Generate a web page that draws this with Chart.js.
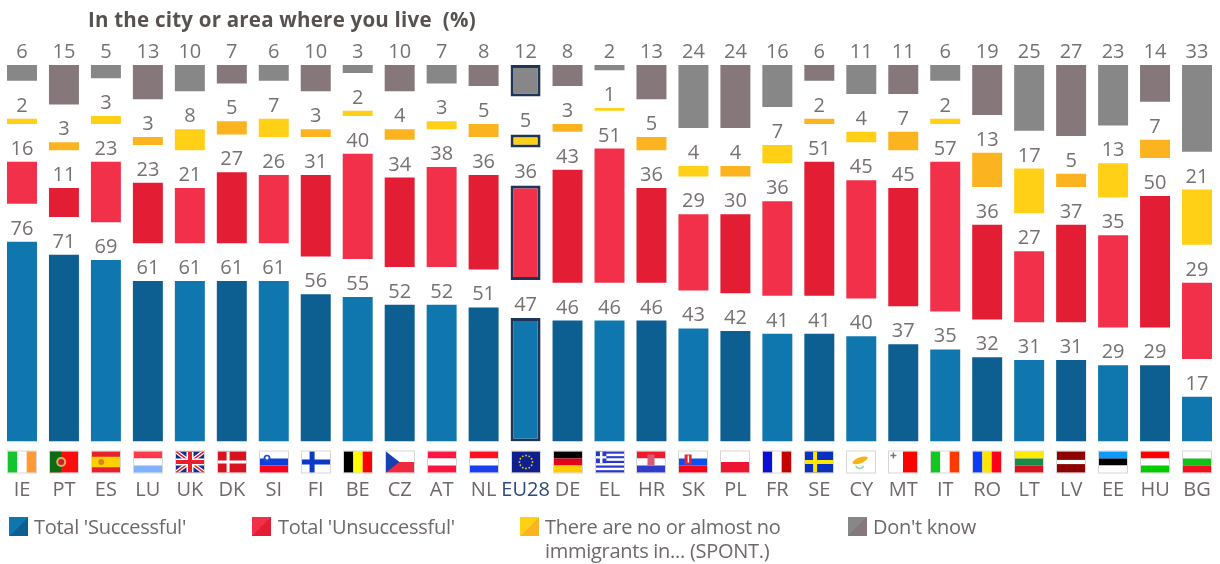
<!DOCTYPE html>
<html>
<head>
<meta charset="utf-8">
<script src="https://cdn.jsdelivr.net/npm/chart.js@4"></script>
<style>
html,body{margin:0;padding:0;background:#fff;}
#wrap{position:relative;width:1220px;height:564px;overflow:hidden;font-family:"Open Sans",sans-serif;color:#6f686a;}
canvas{position:absolute;left:0;top:0;}
.t{position:absolute;white-space:nowrap;font-size:20px;line-height:24px;letter-spacing:-0.28px;}
.s{position:absolute;width:19px;height:19px;}
#title{position:absolute;left:88px;top:6px;font-size:20.5px;line-height:26px;font-weight:700;color:#57524f;white-space:nowrap;letter-spacing:.22px;}
</style>
</head>
<body>
<div id="wrap">
<canvas id="c" width="1220" height="564"></canvas>
<div id="title">In the city or area where you live&nbsp; (%)</div>
<div class="s" style="left:9px;top:517px;background:linear-gradient(135deg,#0f76ae 50%,#0d5f91 50%)"></div>
<div class="t" style="left:34px;top:515px">Total 'Successful'</div>
<div class="s" style="left:252px;top:517px;background:linear-gradient(135deg,#f3304a 50%,#e31d33 50%)"></div>
<div class="t" style="left:278px;top:515px">Total 'Unsuccessful'</div>
<div class="s" style="left:520px;top:517px;background:linear-gradient(135deg,#ffd016 50%,#fbb41f 50%)"></div>
<div class="t" style="left:545px;top:515px">There are no or almost no</div>
<div class="t" style="left:545px;top:539px">immigrants in... (SPONT.)</div>
<div class="s" style="left:848px;top:517px;background:linear-gradient(135deg,#878787 50%,#85777a 50%)"></div>
<div class="t" style="left:873px;top:515px">Don't know</div>
</div>
<script>
const categories = ["IE","PT","ES","LU","UK","DK","SI","FI","BE","CZ","AT","NL","EU28","DE","EL","HR","SK","PL","FR","SE","CY","MT","IT","RO","LT","LV","EE","HU","BG"];
const successful = [76,71,69,61,61,61,61,56,55,52,52,51,47,46,46,46,43,42,41,41,40,37,35,32,31,31,29,29,17];
const unsuccessful = [16,11,23,23,21,27,26,31,40,34,38,36,36,43,51,36,29,30,36,51,45,45,57,36,27,37,35,50,29];
const noImmigrants = [2,3,3,3,8,5,7,3,2,4,3,5,5,3,1,5,4,4,7,2,4,7,2,13,17,5,13,7,21];
const dontKnow = [6,15,5,13,10,7,6,10,3,10,7,8,12,8,2,13,24,24,16,6,11,11,6,19,25,27,23,14,33];
const seriesGap = 14.4;
const highlight = "EU28";

const shades = {
  blue:["#0f76ae","#0d5f91"], red:["#f3304a","#e31d33"],
  yellow:["#ffd016","#fbb41f"], gray:["#878787","#85777a"]
};
const isEU = i => categories[i] === highlight;
function series(label, data, pair){
  return {label, data, stack:"s", isValue:true,
    backgroundColor: ctx => pair[ctx.dataIndex % 2],
    borderColor: ctx => isEU(ctx.dataIndex) ? "#1f3557" : "rgba(0,0,0,0)",
    borderWidth: ctx => isEU(ctx.dataIndex) ? 3 : 0,
    borderSkipped:false};
}
function spacer(){
  return {label:"", data:categories.map(()=>seriesGap), stack:"s", backgroundColor:"rgba(0,0,0,0)", borderWidth:0};
}

/* flag helpers */
function stripesH(g,x,y,w,h,cols){cols.forEach((c,i)=>{g.fillStyle=c;g.fillRect(x,y+h*i/cols.length,w,h/cols.length);});}
function stripesV(g,x,y,w,h,cols){cols.forEach((c,i)=>{g.fillStyle=c;g.fillRect(x+w*i/cols.length,y,w/cols.length,h);});}
function cross(g,x,y,w,h,cx,t,col){g.fillStyle=col;g.fillRect(x,y+h/2-t/2,w,t);g.fillRect(x+cx-t/2,y,t,h);}
function dot(g,x,y,r,c){g.fillStyle=c;g.beginPath();g.arc(x,y,r,0,Math.PI*2);g.fill();}
const flags = {
  IE:(g,x,y,w,h)=>stripesV(g,x,y,w,h,["#14c42c","#ffffff","#ff9a35"]),
  PT:(g,x,y,w,h)=>{g.fillStyle="#fb0d0d";g.fillRect(x,y,w,h);g.fillStyle="#0a6b14";g.fillRect(x,y,w*.4,h);dot(g,x+w*.4,y+h/2,5,"#d8b060");dot(g,x+w*.4,y+h/2,3,"#c8242c");},
  ES:(g,x,y,w,h)=>{g.fillStyle="#e8202d";g.fillRect(x,y,w,h);g.fillStyle="#ffd000";g.fillRect(x,y+h/4,w,h/2);dot(g,x+w*.33,y+h/2,3,"#d9822b");},
  LU:(g,x,y,w,h)=>stripesH(g,x,y,w,h,["#ff3b4b","#ffffff","#7fb2ff"]),
  UK:(g,x,y,w,h)=>{g.fillStyle="#1b2a8a";g.fillRect(x,y,w,h);g.save();g.beginPath();g.rect(x,y,w,h);g.clip();
    g.strokeStyle="#fff";g.lineWidth=4;g.beginPath();g.moveTo(x,y);g.lineTo(x+w,y+h);g.moveTo(x+w,y);g.lineTo(x,y+h);g.stroke();
    g.strokeStyle="#e8202d";g.lineWidth=1.5;g.beginPath();g.moveTo(x,y);g.lineTo(x+w,y+h);g.moveTo(x+w,y);g.lineTo(x,y+h);g.stroke();
    cross(g,x,y,w,h,w/2,7,"#fff");cross(g,x,y,w,h,w/2,4,"#e8202d");g.restore();},
  DK:(g,x,y,w,h)=>{g.fillStyle="#d9121f";g.fillRect(x,y,w,h);cross(g,x,y,w,h,w*.36,3,"#fff");},
  SI:(g,x,y,w,h)=>{stripesH(g,x,y,w,h,["#ffffff","#0a40d8","#f5041f"]);dot(g,x+w*.25,y+h*.32,3.5,"#1f4fd0");dot(g,x+w*.25,y+h*.3,1.6,"#fff");},
  FI:(g,x,y,w,h)=>{g.fillStyle="#fff";g.fillRect(x,y,w,h);cross(g,x,y,w,h,w*.36,5,"#0b3bc4");},
  BE:(g,x,y,w,h)=>stripesV(g,x,y,w,h,["#000000","#ffff00","#ff0000"]),
  CZ:(g,x,y,w,h)=>{stripesH(g,x,y,w,h,["#ffffff","#ee2a3c"]);g.fillStyle="#1540b0";g.beginPath();g.moveTo(x,y);g.lineTo(x+w*.48,y+h/2);g.lineTo(x,y+h);g.fill();},
  AT:(g,x,y,w,h)=>stripesH(g,x,y,w,h,["#ff1744","#ffffff","#ff1744"]),
  NL:(g,x,y,w,h)=>stripesH(g,x,y,w,h,["#ff1020","#ffffff","#1a3ff0"]),
  EU28:(g,x,y,w,h)=>{g.fillStyle="#0e1f8e";g.fillRect(x,y,w,h);for(let i=0;i<12;i++){const a=i*Math.PI/6;dot(g,x+w/2+6.5*Math.cos(a),y+h/2+6.5*Math.sin(a),.9,"#e8c81a");}},
  DE:(g,x,y,w,h)=>stripesH(g,x,y,w,h,["#000000","#e4001b","#ffcc00"]),
  EL:(g,x,y,w,h)=>{stripesH(g,x,y,w,h,["#2a38d0","#ffffff","#2a38d0","#ffffff","#2a38d0","#ffffff","#2a38d0","#ffffff","#2a38d0"]);g.fillStyle="#2a38d0";g.fillRect(x,y,w*.37,h*5/9);g.fillStyle="#fff";g.fillRect(x,y+h*2/9,w*.37,h/9);g.fillRect(x+w*.14,y,w*.09,h*5/9);},
  HR:(g,x,y,w,h)=>{stripesH(g,x,y,w,h,["#f01a2c","#ffffff","#2f3cc9"]);g.fillStyle="#d65a70";g.fillRect(x+w/2-3.5,y+3,7,11);},
  SK:(g,x,y,w,h)=>{stripesH(g,x,y,w,h,["#ffffff","#0a50f0","#f5041f"]);g.fillStyle="#e82030";g.fillRect(x+w*.2,y+3,7,10);g.fillStyle="#fff";g.fillRect(x+w*.2+3,y+4,1.5,7);},
  PL:(g,x,y,w,h)=>stripesH(g,x,y,w,h,["#ffffff","#ef1530"]),
  FR:(g,x,y,w,h)=>stripesV(g,x,y,w,h,["#0a0fd8","#ffffff","#c40000"]),
  SE:(g,x,y,w,h)=>{g.fillStyle="#0a30c0";g.fillRect(x,y,w,h);cross(g,x,y,w,h,w*.36,4,"#ffe600");},
  CY:(g,x,y,w,h)=>{g.fillStyle="#fff";g.fillRect(x,y,w,h);g.fillStyle="#f8b218";g.beginPath();g.ellipse(x+w*.47,y+h*.42,8,3,-.35,0,Math.PI*2);g.fill();g.strokeStyle="#8fd88f";g.lineWidth=1.5;g.beginPath();g.arc(x+w*.45,y+h*.62,4,.3,Math.PI-.3);g.stroke();},
  MT:(g,x,y,w,h)=>{stripesV(g,x,y,w,h,["#ffffff","#ff0000"]);cross(g,x+w*.05,y+1,6,6,3,1.5,"#777");},
  IT:(g,x,y,w,h)=>stripesV(g,x,y,w,h,["#11c81f","#ffffff","#ff3a00"]),
  RO:(g,x,y,w,h)=>stripesV(g,x,y,w,h,["#0a3cff","#ffe600","#ff0018"]),
  LT:(g,x,y,w,h)=>stripesH(g,x,y,w,h,["#ffeb00","#1a8a4a","#d9121f"]),
  LV:(g,x,y,w,h)=>{g.fillStyle="#8f0000";g.fillRect(x,y,w,h);g.fillStyle="#fff";g.fillRect(x,y+h*.4,w,h*.2);},
  EE:(g,x,y,w,h)=>stripesH(g,x,y,w,h,["#0d9aff","#000000","#ffffff"]),
  HU:(g,x,y,w,h)=>stripesH(g,x,y,w,h,["#ff0000","#ffffff","#00cc00"]),
  BG:(g,x,y,w,h)=>stripesH(g,x,y,w,h,["#ffffff","#12c01a","#f01020"])
};

const flagRow = {
  id:"flagRow",
  afterDraw(chart){
    const g = chart.ctx, sx = chart.scales.x;
    const w = 28, h = 21, top = 451.5;
    categories.forEach((c,i)=>{
      const x = Math.round(sx.getPixelForValue(i) - w/2);
      g.save();
      flags[c](g,x,top,w,h);
      g.strokeStyle = "rgba(190,180,180,.55)"; g.lineWidth = 1;
      g.strokeRect(x-.5,top-.5,w+1,h+1);
      g.restore();
    });
  }
};
const valueLabels = {
  id:"valueLabels",
  afterDatasetsDraw(chart){
    const g = chart.ctx;
    g.save();
    g.font = '20px "Open Sans", sans-serif';
    g.fillStyle = "#777172";
    g.textAlign = "center";
    g.textBaseline = "alphabetic";
    chart.data.datasets.forEach((ds,di)=>{
      if(!ds.isValue) return;
      chart.getDatasetMeta(di).data.forEach((el,i)=>{
        g.fillText(String(ds.data[i]), el.x, el.y - 7);
      });
    });
    g.restore();
  }
};

new Chart(document.getElementById("c"),{
  type:"bar",
  data:{labels:categories,datasets:[
    series("Total 'Successful'",successful,shades.blue),
    spacer(),
    series("Total 'Unsuccessful'",unsuccessful,shades.red),
    spacer(),
    series("There are no or almost no immigrants in... (SPONT.)",noImmigrants,shades.yellow),
    spacer(),
    series("Don't know",dontKnow,shades.gray)
  ]},
  options:{
    responsive:false,animation:false,
    layout:{padding:{left:1,right:2,top:65,bottom:42.5}},
    datasets:{bar:{categoryPercentage:30/42,barPercentage:1}},
    plugins:{legend:{display:false},title:{display:false},tooltip:{enabled:false}},
    scales:{
      x:{stacked:true,
        grid:{display:false,drawTicks:false},border:{display:false},
        afterFit:s=>{s.height=80;s.paddingLeft=0;s.paddingRight=0;},
        ticks:{autoSkip:false,maxRotation:0,minRotation:0,padding:37,
          font:{family:'"Open Sans", sans-serif',size:20},
          color:ctx=>isEU(ctx.index)?"#2f4a75":"#6f686a"}},
      y:{stacked:true,display:false,min:0,max:100+3*seriesGap}
    }
  },
  plugins:[valueLabels,flagRow]
});
</script>
</body>
</html>
